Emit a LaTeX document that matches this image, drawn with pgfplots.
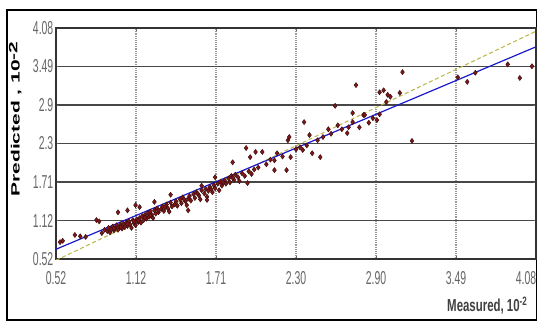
\documentclass[border=0pt]{standalone}
\usepackage{pgfplots}
\pgfplotsset{compat=1.18}
\usepackage{fontspec}
\setmainfont{Liberation Sans}
\usepackage{graphicx}
\newcommand{\nt}[1]{\scalebox{0.56}[1]{#1}}
\definecolor{ptred}{HTML}{801818}
\definecolor{ptedge}{HTML}{3A0C0C}
\definecolor{regblue}{HTML}{1A1ACC}
\definecolor{oneline}{HTML}{BDB84E}
\begin{document}
\begin{tikzpicture}
\path[use as bounding box] (-42pt,-47.25pt) rectangle (361.5pt,194.25pt);
\draw[black, line width=1.1pt] (-36.75pt,-45.75pt) rectangle (360.4pt,186.75pt);
\begin{axis}[
  at={(0,0)}, anchor=south west,
  scale only axis, width=360pt, height=173.25pt,
  xmin=0.52, xmax=4.08, ymin=0.52, ymax=4.08,
  xtick={0.52,1.1133,1.7067,2.30,2.8933,3.4867,4.08},
  xticklabels={\nt{0.52},\nt{1.12},\nt{1.71},\nt{2.30},\nt{2.90},\nt{3.49},\hspace*{-15pt}\nt{4.08}},
  ytick={0.52,1.1133,1.7067,2.30,2.8933,3.4867,4.08},
  yticklabels={\nt{0.52},\nt{1.12},\nt{1.71},\nt{2.3},\nt{2.9},\nt{3.49},\nt{4.08}},
  ticklabel style={font=\fontsize{14}{14}\selectfont, text=black!60},
  xticklabel style={yshift=-6pt},
  yticklabel style={xshift=1.5pt},
  tick align=inside, major tick length=2.5pt,
  tick style={black!60, line width=0.6pt},
  xmajorgrids, ymajorgrids,
  major y grid style={black!72, line width=0.9pt},
  major x grid style={black!40, densely dotted, line width=0.9pt},
  axis line style={black!80, line width=0.9pt},
  clip=true,
]
\addplot[oneline, densely dashed, line width=0.8pt] coordinates {(0.52,0.50) (4.08,4.03)};
\addplot[regblue, line width=0.9pt] coordinates {(0.52,0.67) (4.08,3.79)};
\addplot[only marks, mark=diamond*, mark size=1.9pt,
  mark options={fill=ptred, draw=ptedge, line width=0.35pt}] coordinates {
(0.86,0.92)(0.88,0.97)(0.90,0.95)(0.91,1.00)(0.92,0.93)(0.93,0.98)(0.94,1.02)
(0.95,0.96)(0.96,1.00)(0.97,1.04)(0.98,0.97)(0.99,1.02)(1.00,1.05)(1.01,0.99)
(1.02,1.06)(1.03,1.01)(1.04,1.08)(1.05,1.03)(1.06,1.10)(1.07,1.05)(1.08,1.00)
(1.09,1.12)(1.10,1.07)(1.11,1.04)(1.12,1.13)(1.13,1.09)(1.14,1.15)(1.15,1.08)
(1.16,1.18)(1.17,1.12)(1.18,1.20)(1.19,1.14)(1.20,1.23)(1.21,1.17)(1.22,1.25)
(1.23,1.20)(1.24,1.15)(1.25,1.27)(1.26,1.22)(1.27,1.30)(1.28,1.24)(1.30,1.29)
(1.31,1.33)(1.32,1.26)(1.34,1.36)(1.35,1.30)(1.36,1.25)(1.37,1.39)(1.38,1.33)
(1.40,1.36)(1.41,1.41)(1.42,1.34)(1.44,1.44)(1.45,1.38)(1.46,1.47)(1.48,1.41)
(1.49,1.35)(1.50,1.45)(1.51,1.49)(1.52,1.42)(1.54,1.52)(1.55,1.46)(1.56,1.55)
(1.58,1.50)(1.59,1.44)(1.60,1.58)(1.62,1.53)(1.63,1.60)(1.64,1.48)(1.65,1.57)
(1.66,1.63)(1.68,1.55)(1.69,1.66)(1.70,1.61)(1.72,1.68)(1.73,1.58)(1.74,1.71)
(1.75,1.65)(1.77,1.73)(1.78,1.68)(1.80,1.76)(1.81,1.70)(1.82,1.80)(1.84,1.74)
(1.85,1.82)(1.87,1.78)(1.88,1.72)(1.90,1.84)(1.92,1.80)(1.94,1.69)(1.95,1.87)
(1.97,1.83)(1.99,1.90)
(0.95,0.99)(1.00,1.01)(1.05,1.06)(1.10,1.10)(1.13,1.11)(1.18,1.16)(1.22,1.19)
(1.28,1.27)(1.33,1.32)(1.47,1.44)(1.57,1.53)(1.67,1.60)(1.76,1.70)(1.83,1.77)
(0.55,0.78)(0.57,0.80)(0.66,0.89)(0.70,0.87)(0.74,0.86)(0.82,1.12)(0.84,1.10)
(0.98,1.24)(1.05,1.27)(1.11,1.35)(1.14,1.32)(1.37,1.51)(1.50,1.27)(1.64,1.43)
(1.70,1.78)(1.25,1.40)(1.60,1.65)(1.83,2.01)
(2.02,1.93)(2.05,2.17)(2.00,2.17)(1.93,2.23)(1.96,2.09)(2.08,1.98)(2.11,2.05)
(2.14,2.04)(2.16,2.15)(2.14,1.89)(2.23,1.89)(2.20,2.10)(2.24,2.35)(2.25,2.40)
(2.26,2.09)(2.30,2.21)(2.33,2.24)(2.35,2.20)(2.36,2.63)(2.38,2.27)(2.40,2.43)
(2.42,2.15)(2.46,2.35)(2.48,2.09)(2.50,2.40)(2.54,2.52)(2.56,2.45)(2.59,2.88)
(2.61,2.58)(2.64,2.52)(2.68,2.46)(2.69,2.55)(2.72,2.63)(2.72,2.77)(2.77,2.55)
(2.80,2.74)(2.81,2.74)(2.84,2.62)(2.87,2.69)(2.90,2.66)(2.92,2.75)(2.745,3.20)
(2.92,3.09)(2.95,3.12)(2.98,3.05)(3.00,3.02)(2.97,2.94)(3.07,3.08)(3.09,3.40)
(3.16,2.34)(3.50,3.32)(3.57,3.25)(3.63,3.39)(3.87,3.52)(3.96,3.31)(4.05,3.49)
};
\end{axis}
\node[rotate=90, anchor=center, font=\bfseries\fontsize{9}{10}\selectfont] at (-30.5pt,105pt)
  {\scalebox{1.75}[1]{Predicted , 10\raisebox{0.35ex}{-2}}};
\node[anchor=east, text=black!75, font=\fontsize{13}{14}\selectfont] at (357pt,-35pt)
  {\scalebox{0.66}[1]{\textbf{Measured, 10}\textsuperscript{\textbf{-2}}}};
\end{tikzpicture}
\end{document}
